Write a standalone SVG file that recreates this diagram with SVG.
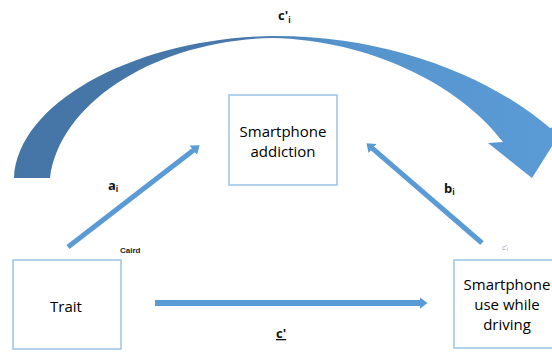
<svg xmlns="http://www.w3.org/2000/svg" width="552" height="352" viewBox="0 0 552 352">
  <style>
    .box { fill: #ffffff; stroke: #9dc3e6; stroke-width: 1.5; }
    .txt { font-family: "Open Sans", "Liberation Sans", sans-serif; font-size: 15px; fill: #000000; text-anchor: middle; }
    .lbl { font-family: "Open Sans", "Liberation Sans", sans-serif; font-size: 13px; font-weight: bold; fill: #111111; }
    .sub { font-size: 8px; }
    .arrow { stroke: #5b9bd5; stroke-width: 5; fill: none; marker-end: url(#head); }
  </style>
  <defs>
    <linearGradient id="curveGrad" x1="0" y1="0" x2="1" y2="0">
      <stop offset="0" stop-color="#4475a6"/>
      <stop offset="0.42" stop-color="#4878ab"/>
      <stop offset="0.58" stop-color="#5593cc"/>
      <stop offset="1" stop-color="#5b9bd5"/>
    </linearGradient>
    <marker id="head" markerUnits="userSpaceOnUse" markerWidth="10" markerHeight="12" refX="0.5" refY="6" orient="auto" viewBox="0 0 10 12">
      <path d="M0,0 L8,6 L0,12 Z" fill="#5b9bd5"/>
    </marker>
  </defs>

  <g id="connectors">
    <path id="curved-ci" fill="url(#curveGrad)" d="M14,178 C18,100 140,38 272,36 C390,35 492,78 550,128 L566,124 L532,178 L488,143 L503,142 C460,85 370,40 272,38 C160,40 60,100 50,178 Z"/>
    <line id="arrow-a" class="arrow" x1="68" y1="247" x2="193.7" y2="149.9"/>
    <line id="arrow-b" class="arrow" x1="482" y1="243" x2="372.1" y2="148.2"/>
    <line id="arrow-c" class="arrow" x1="155" y1="303" x2="420" y2="303" style="stroke-width:6"/>
  </g>

  <g id="node-addiction">
    <rect class="box" x="229" y="95" width="108" height="90"/>
    <text class="txt" x="283" y="137">Smartphone</text>
    <text class="txt" x="283" y="157">addiction</text>
  </g>

  <g id="node-trait">
    <rect class="box" x="13" y="260" width="108" height="89"/>
    <text class="txt" x="66" y="312">Trait</text>
  </g>

  <g id="node-driving">
    <rect class="box" x="454" y="260" width="108" height="88"/>
    <text class="txt" x="507" y="290">Smartphone</text>
    <text class="txt" x="507" y="310">use while</text>
    <text class="txt" x="507" y="330">driving</text>
  </g>

  <g id="labels">
    <text class="lbl" x="278" y="20">c'<tspan class="sub" dy="3">i</tspan></text>
    <text class="lbl" x="108" y="190">a<tspan class="sub" dy="2">i</tspan></text>
    <text class="lbl" x="444" y="193">b<tspan class="sub" dy="2">i</tspan></text>
    <text x="120" y="253" style="font-family:'Liberation Sans',sans-serif;font-size:8px;font-weight:bold;fill:#222222">Caird</text>
    <text x="502" y="250" style="font-family:'Liberation Sans',sans-serif;font-size:7px;fill:#8fa8c8">c'<tspan font-size="5" dy="1">i</tspan></text>
    <text class="lbl" x="276" y="338" style="text-decoration:underline">c'</text>
  </g>
</svg>
